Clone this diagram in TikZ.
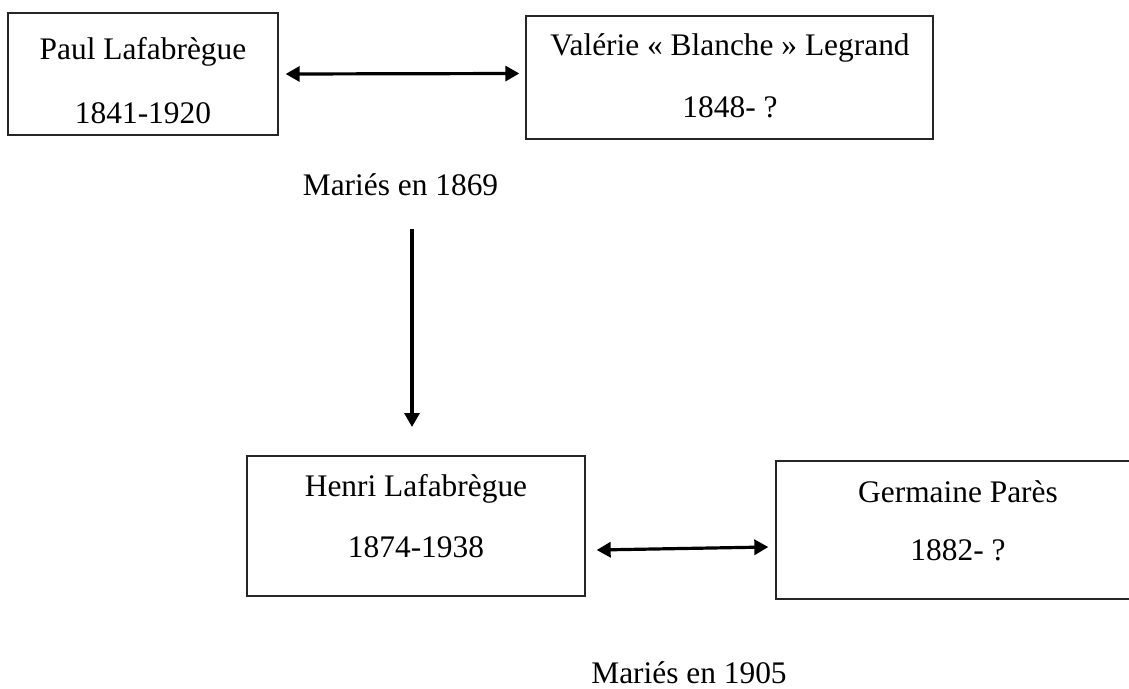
\documentclass[tikz,border=0pt]{standalone}
\usepackage{fontspec}
\setmainfont{Liberation Serif}
\usetikzlibrary{arrows.meta}
\tikzset{
  box/.style={draw=black!85, line width=1.3pt, inner sep=0pt, rectangle},
  txt/.style={inner sep=0pt, anchor=base, font=\fontsize{31.4}{36}\selectfont},
  link/.style={line width=3.2pt, black, {Triangle[length=14pt,width=15pt]}-{Triangle[length=14pt,width=15pt]}},
  down/.style={line width=3.2pt, black, -{Triangle[length=14pt,width=15pt]}}
}
\begin{document}
\begin{tikzpicture}[x=1pt,y=-1pt]
\useasboundingbox (0,0) rectangle (1129,688);
\fill[white] (0,0) rectangle (1129,688);
% boxes
\node[box, minimum width=270pt, minimum height=122pt] (paul) at (143,74) {};
\node[box, minimum width=407pt, minimum height=123pt] (valerie) at (729.5,77.5) {};
\node[box, minimum width=338pt, minimum height=140pt] (henri) at (416,526) {};
\node[box, minimum width=364pt, minimum height=138pt] (germaine) at (958,530) {};
% texts
\node[txt] (paulname) at (143,59) {Paul Lafabrègue};
\node[txt] (pauldate) at (143,123) {1841-1920};
\node[txt] (valname) at (730,55) {Valérie « Blanche » Legrand};
\node[txt] (valdate) at (730,117) {1848- ?};
\node[txt] (henriname) at (416,496) {Henri Lafabrègue};
\node[txt] (henridate) at (416,557) {1874-1938};
\node[txt] (germname) at (958,502) {Germaine Parès};
\node[txt] (germdate) at (958,560) {1882- ?};
\node[txt] (mar1) at (400.5,195) {Mariés en 1869};
\node[txt] (mar2) at (689,683) {Mariés en 1905};
% connectors
\coordinate (a1) at ([xshift=7pt]paul.east);
\coordinate (a2) at ([xshift=-6pt,yshift=4pt]valerie.west);
\draw[link] (a1) -- (a2);
\coordinate (v1) at (412,229);
\coordinate (v2) at (412,427);
\draw[down] (v1) -- (v2);
\coordinate (b1) at ([xshift=11pt,yshift=-24pt]henri.east);
\coordinate (b2) at ([xshift=-7pt,yshift=-17pt]germaine.west);
\draw[link] (b1) -- (b2);
\end{tikzpicture}
\end{document}
